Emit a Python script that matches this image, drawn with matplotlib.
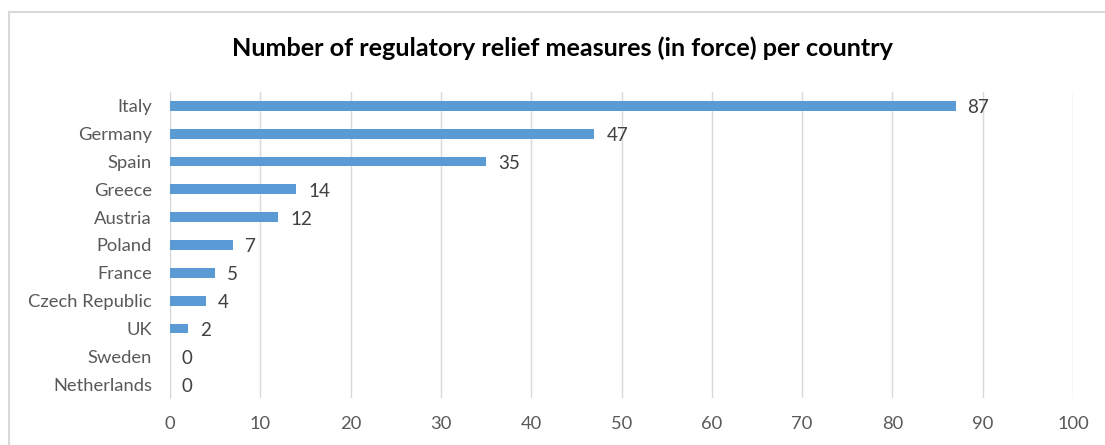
import matplotlib
matplotlib.use("Agg")
import matplotlib.pyplot as plt
from matplotlib.lines import Line2D

countries = ["Italy", "Germany", "Spain", "Greece", "Austria", "Poland",
             "France", "Czech Republic", "UK", "Sweden", "Netherlands"]
measures = [87, 47, 35, 14, 12, 7, 5, 4, 2, 0, 0]
x_ticks = [0, 10, 20, 30, 40, 50, 60, 70, 80, 90, 100]
title = "Number of regulatory relief measures (in force) per country"

plt.rcParams["font.family"] = ["Lato", "DejaVu Sans"]

W, H = 1105, 445
fig = plt.figure(figsize=(W / 100, H / 100), dpi=100)
ax = fig.add_axes([170 / W, 1 - 398 / H, 903 / W, 306 / H])

pos = list(range(len(countries)))
ax.barh(pos, measures, height=0.35, color="#5B9BD5", zorder=3)
ax.set_ylim(len(countries) - 0.5, -0.5)
ax.set_xlim(0, 100)
ax.set_xticks(x_ticks)
ax.set_yticks(pos)
ax.set_yticklabels(countries)

for p, v in zip(pos, measures):
    ax.annotate(str(v), (v, p), xytext=(12, -2), textcoords="offset pixels",
                ha="left", va="center", fontsize=13.5, color="#404040")

ax.grid(axis="x", color="#D9D9D9", linewidth=1.0, zorder=0)
for s in ["top", "right", "bottom"]:
    ax.spines[s].set_visible(False)
ax.spines["left"].set_color("#D9D9D9")
ax.tick_params(axis="both", length=0, labelsize=13.2, colors="#595959")
ax.tick_params(axis="y", pad=13)
ax.tick_params(axis="x", pad=13)

fig.text(563 / W, 1 - 48 / H, title, ha="center", va="center",
         fontsize=18.2, fontweight="bold", color="#000000")

# chart frame (top and left edges)
fig.add_artist(Line2D([9 / W, 1], [1 - 12 / H, 1 - 12 / H],
                      color="#D9D9D9", linewidth=1.5, transform=fig.transFigure))
fig.add_artist(Line2D([9 / W, 9 / W], [0, 1 - 12 / H],
                      color="#D9D9D9", linewidth=1.5, transform=fig.transFigure))

fig.savefig("out.png", dpi=100, facecolor="white")
